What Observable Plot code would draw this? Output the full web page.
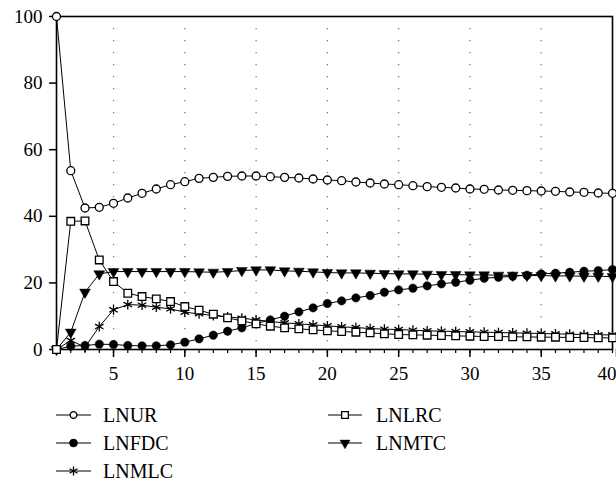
<!DOCTYPE html>
<html>
<head>
<meta charset="utf-8">
<script src="https://cdn.jsdelivr.net/npm/d3@7"></script>
<script src="https://cdn.jsdelivr.net/npm/@observablehq/plot@0.6"></script>
<style>
  html, body { margin: 0; padding: 0; background: #fff; }
  #wrap { position: relative; width: 616px; height: 484px; overflow: hidden; font-family: "Liberation Serif", "Times New Roman", Times, "DejaVu Serif", "Noto Serif", FreeSerif, serif; }
  .item { position: absolute; height: 24px; line-height: 24px; font-size: 20px; color: #000; white-space: nowrap; font-family: inherit; }
  .sym { position: absolute; }
</style>
</head>
<body>
<div id="wrap"></div>
<script>
// ---- data ----
const periods = d3.range(1, 41);
const seriesNames = ["LNUR", "LNLRC", "LNFDC", "LNMTC", "LNMLC"];
const LNUR = [100, 53.7, 42.5, 42.7, 43.9, 45.5, 46.9, 48.2, 49.5, 50.4,
  51.4, 51.7, 52.0, 52.1, 52.1, 51.9, 51.7, 51.5, 51.2, 50.9,
  50.7, 50.3, 50.0, 49.7, 49.5, 49.2, 48.9, 48.7, 48.5, 48.2,
  48.1, 47.9, 47.8, 47.7, 47.6, 47.5, 47.3, 47.2, 47.0, 46.9];
const LNLRC = [0, 38.5, 38.6, 26.9, 20.4, 16.9, 15.9, 15.2, 14.4, 12.9,
  11.8, 10.6, 9.5, 8.6, 7.7, 7.0, 6.5, 6.2, 5.9, 5.6,
  5.4, 5.2, 5.0, 4.7, 4.5, 4.4, 4.3, 4.2, 4.1, 4.0,
  3.9, 3.9, 3.8, 3.8, 3.7, 3.7, 3.6, 3.6, 3.5, 3.5];
const LNFDC = [0, 1.0, 1.2, 1.6, 1.5, 1.2, 1.1, 1.1, 1.4, 2.2,
  3.2, 4.3, 5.5, 6.5, 7.8, 8.9, 10.0, 11.3, 12.5, 13.8,
  14.6, 15.5, 16.2, 17.2, 17.9, 18.4, 19.1, 19.7, 20.2, 20.8,
  21.4, 21.7, 22.0, 22.3, 22.7, 22.9, 23.2, 23.5, 23.7, 24.0];
const LNMTC = [0, 5.2, 17.2, 22.7, 23.4, 23.4, 23.4, 23.4, 23.4, 23.4,
  23.3, 23.2, 23.4, 23.7, 23.9, 23.9, 23.6, 23.5, 23.3, 23.1,
  23.0, 23.0, 22.9, 22.8, 22.7, 22.7, 22.6, 22.5, 22.5, 22.4,
  22.4, 22.3, 22.3, 22.2, 22.2, 22.1, 22.1, 22.0, 22.0, 21.9];
const LNMLC = [0, 2.7, 0.7, 6.9, 11.9, 13.5, 13.3, 12.7, 12.2, 11.2,
  10.7, 10.2, 9.8, 9.4, 8.9, 8.4, 8.0, 7.7, 7.4, 7.1,
  6.8, 6.6, 6.3, 6.1, 6.0, 5.8, 5.6, 5.5, 5.4, 5.3,
  5.2, 5.1, 5.0, 4.9, 4.8, 4.7, 4.6, 4.5, 4.4, 4.4];
const xMajorTicks = [5, 10, 15, 20, 25, 30, 35];
const xLastTick = [40];
const xGridTicks = [5, 10, 15, 20, 25, 30, 35];
const yTicks = [0, 20, 40, 60, 80, 100];

// ---- styles per series ----
const styles = {
  LNUR:  {symbol: "circle",   r: 4.0, fill: "white", stroke: "black", strokeWidth: 1.3},
  LNLRC: {symbol: "square",   r: 4.3, fill: "white", stroke: "black", strokeWidth: 1.3},
  LNFDC: {symbol: "circle",   r: 4.2, fill: "black", stroke: "black", strokeWidth: 0.5},
  LNMTC: {symbol: "triangle", r: 4.0, fill: "black", stroke: "black", strokeWidth: 0.5, rotate: 180},
  LNMLC: {symbol: "asterisk", r: 4.6, fill: "none",  stroke: "black", strokeWidth: 1.3}
};
const valuesBy = {LNUR, LNLRC, LNFDC, LNMTC, LNMLC};
const rows = name => periods.map((p, i) => ({period: p, value: valuesBy[name][i], series: name}));

const drawOrder = ["LNMLC", "LNMTC", "LNFDC", "LNLRC", "LNUR"];
const seriesMarks = drawOrder.flatMap(name => [
  Plot.line(rows(name), {x: "period", y: "value", stroke: "black", strokeWidth: 1}),
  Plot.dot(rows(name), {x: "period", y: "value", ...styles[name]})
]);

const fontStack = "'Liberation Serif', 'Times New Roman', Times, 'DejaVu Serif', 'Noto Serif', FreeSerif, serif";
const chart = Plot.plot({
  width: 616,
  height: 395,
  marginTop: 16,
  marginLeft: 56,
  marginRight: 4,
  marginBottom: 46,
  x: {domain: [1, 40]},
  y: {domain: [0, 100]},
  style: {fontFamily: fontStack, fontSize: "19px", color: "black", background: "white"},
  marks: [
    Plot.ruleX(xGridTicks, {stroke: "#777", strokeWidth: 1.2, strokeDasharray: "1.2,10.8"}),
    Plot.axisY({ticks: yTicks, tickSize: 7, tickPadding: 7, label: null, strokeWidth: 1.5}),
    Plot.axisX({ticks: periods, tickSize: 4, tickFormat: () => "", label: null, strokeWidth: 1.2}),
    Plot.axisX({ticks: xMajorTicks, tickSize: 8, tickPadding: 9, label: null, strokeWidth: 1.5}),
    Plot.axisX({ticks: xLastTick, tickSize: 8, tickPadding: 9, label: null, strokeWidth: 1.5, textAnchor: "end", dx: 4}),
    Plot.frame({stroke: "black", strokeWidth: 1.6}),
    ...seriesMarks
  ]
});
const wrap = document.getElementById("wrap");
chart.style.position = "absolute";
chart.style.left = "0px";
chart.style.top = "0px";
wrap.appendChild(chart);

// ---- legend ----
const legendPos = {
  LNUR:  {lineX: 56,  lineW: 35, textX: 103, cy: 415},
  LNFDC: {lineX: 56,  lineW: 35, textX: 103, cy: 443},
  LNMLC: {lineX: 56,  lineW: 35, textX: 103, cy: 471},
  LNLRC: {lineX: 328, lineW: 34, textX: 376, cy: 415},
  LNMTC: {lineX: 328, lineW: 34, textX: 376, cy: 443}
};
const legendSize = {LNUR: 3.4, LNLRC: 3.8, LNFDC: 4.0, LNMTC: 3.7, LNMLC: 4.3};
const symMap = {circle: d3.symbolCircle, square: d3.symbolSquare, triangle: d3.symbolTriangle, asterisk: d3.symbolAsterisk};
for (const name of seriesNames) {
  const p = legendPos[name], s = styles[name];
  const svg = d3.create("svg").attr("class", "sym")
    .attr("width", p.lineW).attr("height", 16)
    .style("left", p.lineX + "px").style("top", (p.cy - 8) + "px");
  svg.append("line").attr("x1", 0).attr("x2", p.lineW).attr("y1", 8).attr("y2", 8)
    .attr("stroke", "black").attr("stroke-width", 1.2);
  const rr = legendSize[name];
  svg.append("path")
    .attr("d", d3.symbol(symMap[s.symbol], Math.PI * rr * rr)())
    .attr("transform", `translate(${p.lineW / 2},8)` + (s.rotate ? ` rotate(${s.rotate})` : ""))
    .attr("fill", s.fill).attr("stroke", "black").attr("stroke-width", s.strokeWidth);
  wrap.appendChild(svg.node());
  const t = document.createElement("div");
  t.className = "item";
  t.style.left = p.textX + "px";
  t.style.top = (p.cy - 12) + "px";
  t.textContent = name;
  wrap.appendChild(t);
}
</script>
</body>
</html>
